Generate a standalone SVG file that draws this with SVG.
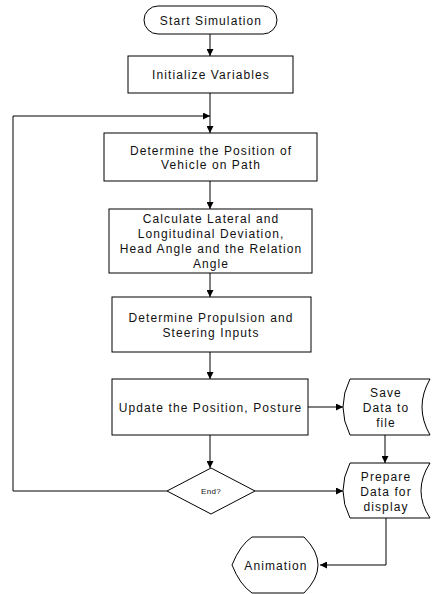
<svg xmlns="http://www.w3.org/2000/svg" width="434" height="594" viewBox="0 0 434 594">
<style>
.s{fill:#fff;stroke:#000;stroke-width:1}
.t{font-family:"Liberation Sans",Arial,sans-serif;font-size:12px;letter-spacing:1.1px;fill:#111;text-anchor:middle}
.c{fill:none;stroke:#000;stroke-width:1}
</style>
<defs>
<marker id="a" viewBox="0 0 10 10" refX="10" refY="5" markerWidth="7" markerHeight="7" markerUnits="userSpaceOnUse" orient="auto">
<path d="M0,0 L10,5 L0,10 z" fill="#000"/>
</marker>
</defs>
<g id="connectors">
<path class="c" d="M210,34 V56" marker-end="url(#a)"/>
<path class="c" d="M210,93 V133" marker-end="url(#a)"/>
<path class="c" d="M167,491 H13 V116 H210" marker-end="url(#a)"/>
<path class="c" d="M210,181 V209" marker-end="url(#a)"/>
<path class="c" d="M210,273 V297" marker-end="url(#a)"/>
<path class="c" d="M210,352 V379" marker-end="url(#a)"/>
<path class="c" d="M308,407 H343" marker-end="url(#a)"/>
<path class="c" d="M210,435 V468" marker-end="url(#a)"/>
<path class="c" d="M385,435 V463" marker-end="url(#a)"/>
<path class="c" d="M255,491 H343" marker-end="url(#a)"/>
<path class="c" d="M386,518 V565 H320" marker-end="url(#a)"/>
</g>
<g id="start">
<rect class="s" x="144" y="6" width="133" height="28" rx="14"/>
<text class="t" x="211" y="24.5">Start Simulation</text>
</g>
<g id="init">
<rect class="s" x="128" y="56" width="165" height="37"/>
<text class="t" x="211" y="79">Initialize Variables</text>
</g>
<g id="position">
<rect class="s" x="104" y="133" width="213" height="48"/>
<text class="t" x="211" y="154.5">Determine the Position of</text>
<text class="t" x="211" y="169">Vehicle on Path</text>
</g>
<g id="calc">
<rect class="s" x="109" y="209" width="203" height="64"/>
<text class="t" x="211" y="222.5">Calculate Lateral and</text>
<text class="t" x="211" y="237.5">Longitudinal Deviation,</text>
<text class="t" x="211" y="252.5">Head Angle and the Relation</text>
<text class="t" x="211" y="267.5">Angle</text>
</g>
<g id="propulsion">
<rect class="s" x="112" y="297" width="199" height="55"/>
<text class="t" x="211" y="321.5">Determine Propulsion and</text>
<text class="t" x="211" y="336.5">Steering Inputs</text>
</g>
<g id="update">
<rect class="s" x="112" y="379" width="196" height="56"/>
<text class="t" x="210.5" y="411.5">Update the Position, Posture</text>
</g>
<g id="save">
<path class="s" d="M350,379 H430 Q414,407 430,435 H350 Q336,407 350,379 z"/>
<text class="t" x="386" y="396.5">Save</text>
<text class="t" x="386" y="411.5">Data to</text>
<text class="t" x="386" y="426.5">file</text>
</g>
<g id="end">
<path class="s" d="M211,468 L255,491 L211,514 L167,491 z"/>
<text class="t" x="211" y="494" style="font-size:8px;letter-spacing:0.3px">End?</text>
</g>
<g id="prepare">
<path class="s" d="M350,463 H430 Q412,491 430,518 H350 Q336,491 350,463 z"/>
<text class="t" x="386" y="480.5">Prepare</text>
<text class="t" x="386" y="495.5">Data for</text>
<text class="t" x="386" y="510.5">display</text>
</g>
<g id="animation">
<path class="s" d="M252,537 H304 Q332,565 304,593 H252 Q240,585 232,565 Q240,545 252,537 z"/>
<text class="t" x="276" y="569.5">Animation</text>
</g>
</svg>
